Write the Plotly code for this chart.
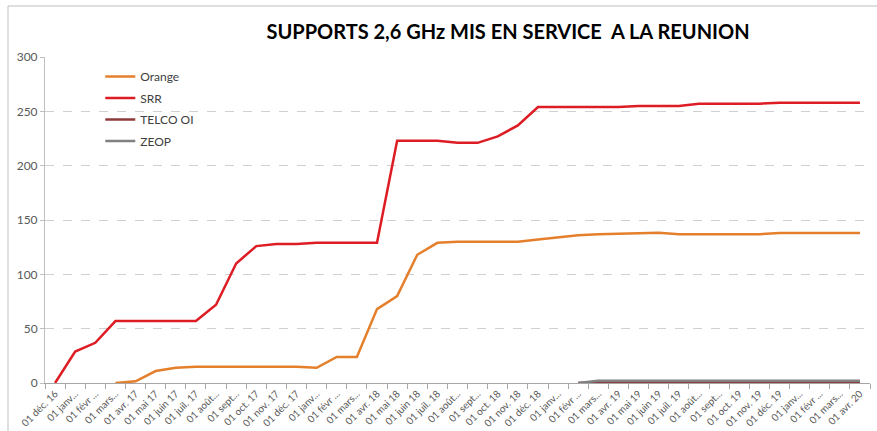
import plotly.graph_objects as go

labels = ["01 déc. 16", "01 janv...", "01 févr ...", "01 mars...", "01 avr. 17", "01 mai 17",
          "01 juin 17", "01 juil. 17", "01 août...", "01 sept...", "01 oct. 17", "01 nov. 17",
          "01 déc. 17", "01 janv...", "01 févr ...", "01 mars...", "01 avr. 18", "01 mai 18",
          "01 juin 18", "01 juil. 18", "01 août...", "01 sept...", "01 oct. 18", "01 nov. 18",
          "01 déc. 18", "01 janv...", "01 févr ...", "01 mars...", "01 avr. 19", "01 mai 19",
          "01 juin 19", "01 juil. 19", "01 août...", "01 sept...", "01 oct. 19", "01 nov. 19",
          "01 déc. 19", "01 janv...", "01 févr ...", "01 mars...", "01 avr. 20"]

orange = [None, None, None, 0, 1.5, 11, 14, 15, 15, 15, 15, 15, 15, 14, 24, 24, 68, 80, 118, 129,
          130, 130, 130, 130, 132, 134, 136, 137, 137.5, 137.7, 138.3, 137, 137, 137, 137, 137,
          138, 138, 138, 138, 138]
srr = [0, 29, 37, 57, 57, 57, 57, 57, 72, 110, 126, 128, 128, 129, 129, 129, 129, 223, 223, 223,
       221, 221, 227, 237, 254, 254, 254, 254, 254, 255, 255, 255, 257, 257, 257, 257,
       258, 258, 258, 258, 258]
telco = [None] * 26 + [0] + [1] * 14
zeop = [None] * 26 + [0] + [2] * 14

x = list(range(len(labels)))
font = "Lato, 'Open Sans', sans-serif"

fig = go.Figure()
series = [("Orange", orange, "#E47F2C"), ("SRR", srr, "#DD1C24"),
          ("TELCO OI", telco, "#8E3B3B"), ("ZEOP", zeop, "#808080")]
for name, vals, col in series:
    fig.add_trace(go.Scatter(x=x, y=vals, name=name, mode="lines", legendgroup=name,
                             line=dict(color=col, width=2.5)))

fig.update_layout(
    width=877, height=431,
    margin=dict(l=45, r=7, t=57, b=48),
    paper_bgcolor="white", plot_bgcolor="white",
    font=dict(family=font, color="#595959"),
    title=dict(text="<b>SUPPORTS 2,6 GHz MIS EN SERVICE  A LA REUNION</b>",
               x=508 / 877, xanchor="center", xref="container",
               y=1 - 32 / 431, yanchor="middle", yref="container",
               font=dict(size=20, color="#000000", family=font)),
    showlegend=True,
    legend=dict(x=0.067, y=0.985, xanchor="left", yanchor="top",
                bgcolor="rgba(0,0,0,0)", font=dict(size=12, color="#404040"),
                tracegroupgap=2.5, itemwidth=30),
    xaxis=dict(range=[-0.5, len(labels) - 0.5], tickmode="array", tickvals=x, ticktext=labels,
               tickangle=-45, tickfont=dict(size=10, color="#595959"), ticks="",
               showgrid=False, showline=True, linecolor="#A6A6A6", linewidth=1,
               zeroline=False, automargin=False,
               minor=dict(tick0=-0.5, dtick=1, ticks="outside", ticklen=5,
                          tickcolor="#A6A6A6", showgrid=False)),
    yaxis=dict(range=[0, 300], tickvals=[0, 50, 100, 150, 200, 250, 300],
               tickfont=dict(size=12, color="#595959"), showgrid=True,
               gridcolor="#D0D0D0", griddash="dash", gridwidth=1,
               showline=True, linecolor="#BFBFBF", zeroline=False,
               ticks="outside", ticklen=4, tickcolor="#BFBFBF", automargin=False),
)
bx = -37 / 825
by = 1 + 51 / 326
fig.add_shape(type="line", xref="paper", yref="paper", x0=bx, x1=bx,
              y0=-1, y1=by, line=dict(color="#BFBFBF", width=1))
fig.add_shape(type="line", xref="paper", yref="paper", x0=bx, x1=2,
              y0=by, y1=by, line=dict(color="#BFBFBF", width=1))

fig.write_html("out.html", config={"displayModeBar": False},
               post_script="document.body.style.margin='0px';document.body.style.overflow='hidden';")
